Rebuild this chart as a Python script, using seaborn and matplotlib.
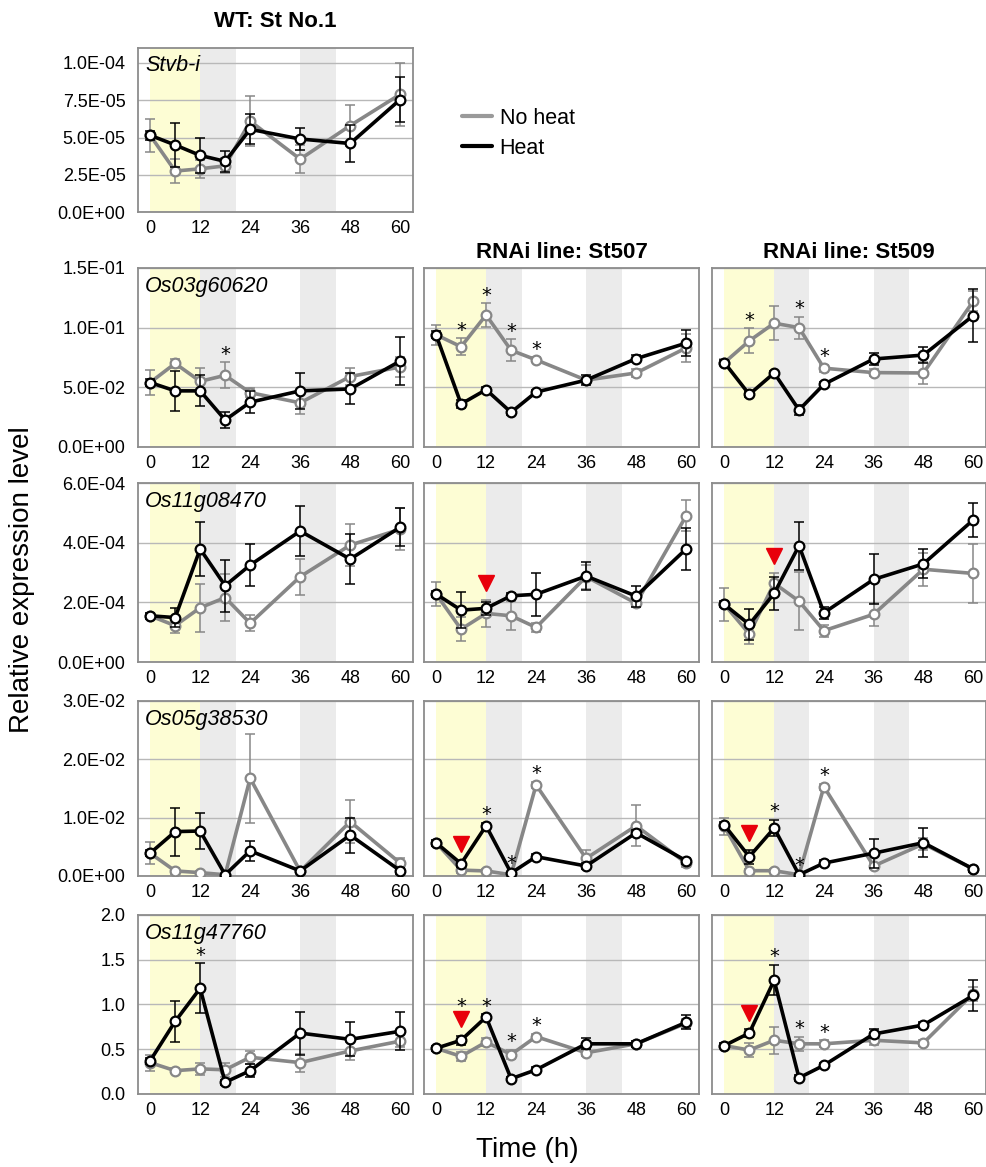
import numpy as np
import pandas as pd
import matplotlib
matplotlib.use('Agg')
import matplotlib.pyplot as plt
import matplotlib.transforms as mtransforms
import seaborn as sns
from matplotlib.lines import Line2D
from matplotlib.ticker import FuncFormatter

# sampling times (h)
times = [0, 6, 12, 18, 24, 36, 48, 60]
lines = ['WT: St No.1', 'RNAi line: St507', 'RNAi line: St509']
genes = ['Stvb-i', 'Os03g60620', 'Os11g08470', 'Os05g38530', 'Os11g47760']

# Stvb-i, WT only
stvb_noheat = [[5.15e-5, 2.75e-5, 2.9e-5, 3.1e-5, 6.1e-5, 3.55e-5, 5.8e-5, 7.9e-5]]
stvb_noheat_err = [[1.1e-5, 0.8e-5, 0.6e-5, 0.5e-5, 1.7e-5, 0.95e-5, 1.4e-5, 2.1e-5]]
stvb_heat = [[5.15e-5, 4.5e-5, 3.8e-5, 3.4e-5, 5.55e-5, 4.9e-5, 4.6e-5, 7.55e-5]]
stvb_heat_err = [[0.3e-5, 1.5e-5, 1.15e-5, 0.7e-5, 1.0e-5, 0.75e-5, 1.25e-5, 1.5e-5]]

# Os03g60620
os03_noheat = [[0.054, 0.070, 0.055, 0.060, 0.0455, 0.037, 0.059, 0.067],
               [0.094, 0.084, 0.1106, 0.081, 0.073, 0.056, 0.062, 0.083],
               [0.0707, 0.0889, 0.1037, 0.100, 0.066, 0.0623, 0.062, 0.122]]
os03_noheat_err = [[0.0105, 0.004, 0.011, 0.011, 0.004, 0.009, 0.007, 0.008],
                   [0.0085, 0.007, 0.0098, 0.0093, 0.002, 0.003, 0.003, 0.012],
                   [0.003, 0.0105, 0.0144, 0.0092, 0.003, 0.003, 0.009, 0.0084]]
os03_heat = [[0.054, 0.047, 0.047, 0.0226, 0.0375, 0.047, 0.0486, 0.072],
             [0.094, 0.036, 0.048, 0.029, 0.046, 0.056, 0.074, 0.087],
             [0.0707, 0.044, 0.062, 0.031, 0.0525, 0.0737, 0.077, 0.110]]
os03_heat_err = [[0.003, 0.017, 0.013, 0.0065, 0.009, 0.015, 0.013, 0.02],
                 [0.003, 0.003, 0.002, 0.002, 0.002, 0.004, 0.003, 0.011],
                 [0.002, 0.002, 0.002, 0.004, 0.002, 0.005, 0.0064, 0.022]]

# Os11g08470 (x 1e-4)
os11g08_noheat = [[1.55, 1.22, 1.82, 2.16, 1.30, 2.86, 3.92, 4.45],
                  [2.28, 1.10, 1.63, 1.55, 1.16, 2.86, 1.97, 4.9],
                  [1.93, 0.94, 2.64, 2.04, 1.05, 1.6, 3.11, 2.97]]
os11g08_noheat_err = [[0.1, 0.23, 0.8, 0.8, 0.26, 0.6, 0.7, 0.7],
                      [0.4, 0.4, 0.45, 0.48, 0.15, 0.4, 0.1, 0.52],
                      [0.54, 0.35, 0.34, 0.97, 0.2, 0.38, 0.55, 1.0]]
os11g08_heat = [[1.55, 1.49, 3.79, 2.56, 3.25, 4.39, 3.45, 4.52],
                [2.28, 1.74, 1.8, 2.22, 2.27, 2.88, 2.21, 3.79],
                [1.93, 1.26, 2.3, 3.9, 1.65, 2.77, 3.29, 4.76]]
os11g08_heat_err = [[0.1, 0.31, 0.9, 0.87, 0.7, 0.85, 0.85, 0.64],
                    [0.1, 0.6, 0.22, 0.1, 0.72, 0.48, 0.35, 0.7],
                    [0.1, 0.51, 0.56, 0.8, 0.2, 0.84, 0.49, 0.57]]
os11g08_scale = 1e-4

# Os05g38530 (x 1e-2)
os05_noheat = [[0.39, 0.086, 0.057, 0.02, 1.675, 0.08, 0.93, 0.22],
               [0.57, 0.10, 0.086, 0.02, 1.56, 0.30, 0.86, 0.22],
               [0.85, 0.09, 0.09, 0.02, 1.53, 0.17, 0.55, 0.12]]
os05_noheat_err = [[0.19, 0.05, 0.03, 0.02, 0.76, 0.03, 0.37, 0.08],
                   [0.05, 0.05, 0.03, 0.02, 0.05, 0.15, 0.35, 0.06],
                   [0.15, 0.03, 0.03, 0.02, 0.05, 0.05, 0.1, 0.04]]
os05_heat = [[0.39, 0.76, 0.77, 0.02, 0.43, 0.086, 0.70, 0.09],
             [0.57, 0.21, 0.86, 0.05, 0.33, 0.17, 0.74, 0.26],
             [0.87, 0.33, 0.82, 0.02, 0.22, 0.39, 0.57, 0.12]]
os05_heat_err = [[0.05, 0.41, 0.31, 0.02, 0.17, 0.03, 0.3, 0.05],
                 [0.05, 0.05, 0.05, 0.02, 0.05, 0.05, 0.05, 0.05],
                 [0.05, 0.12, 0.14, 0.02, 0.05, 0.25, 0.25, 0.05]]
os05_scale = 1e-2

# Os11g47760
os11g47_noheat = [[0.35, 0.26, 0.28, 0.27, 0.41, 0.35, 0.48, 0.59],
                  [0.51, 0.42, 0.58, 0.44, 0.64, 0.46, 0.56, 0.79],
                  [0.54, 0.49, 0.60, 0.56, 0.56, 0.60, 0.57, 1.12]]
os11g47_noheat_err = [[0.09, 0.03, 0.07, 0.08, 0.07, 0.1, 0.1, 0.07],
                      [0.03, 0.05, 0.04, 0.05, 0.03, 0.04, 0.03, 0.05],
                      [0.03, 0.08, 0.15, 0.08, 0.04, 0.05, 0.03, 0.08]]
os11g47_heat = [[0.37, 0.81, 1.18, 0.13, 0.26, 0.68, 0.61, 0.70],
                [0.51, 0.60, 0.86, 0.17, 0.27, 0.56, 0.56, 0.80],
                [0.54, 0.68, 1.27, 0.18, 0.32, 0.67, 0.77, 1.10]]
os11g47_heat_err = [[0.03, 0.23, 0.28, 0.03, 0.07, 0.24, 0.19, 0.21],
                    [0.03, 0.05, 0.03, 0.02, 0.03, 0.06, 0.03, 0.08],
                    [0.03, 0.04, 0.17, 0.03, 0.03, 0.05, 0.03, 0.17]]

# significance marks (*) and red triangles, by time point
stars = {'Stvb-i': [[]],
         'Os03g60620': [[18], [6, 12, 18, 24], [6, 18, 24]],
         'Os11g08470': [[], [], []],
         'Os05g38530': [[], [12, 18, 24], [12, 18, 24]],
         'Os11g47760': [[12], [6, 12, 18, 24], [12, 18, 24]]}
triangles = {'Stvb-i': [[]],
             'Os03g60620': [[], [], []],
             'Os11g08470': [[], [12], [12]],
             'Os05g38530': [[], [6], [6]],
             'Os11g47760': [[], [6], [6]]}

# y axis top and tick step per gene
y_top = {'Stvb-i': 1.1e-4, 'Os03g60620': 0.15, 'Os11g08470': 6e-4,
         'Os05g38530': 3e-2, 'Os11g47760': 2.0}
y_step = {'Stvb-i': 2.5e-5, 'Os03g60620': 0.05, 'Os11g08470': 2e-4,
          'Os05g38530': 1e-2, 'Os11g47760': 0.5}

raw = {
    'Stvb-i': (stvb_noheat, stvb_noheat_err, stvb_heat, stvb_heat_err, 1.0),
    'Os03g60620': (os03_noheat, os03_noheat_err, os03_heat, os03_heat_err, 1.0),
    'Os11g08470': (os11g08_noheat, os11g08_noheat_err, os11g08_heat, os11g08_heat_err, os11g08_scale),
    'Os05g38530': (os05_noheat, os05_noheat_err, os05_heat, os05_heat_err, os05_scale),
    'Os11g47760': (os11g47_noheat, os11g47_noheat_err, os11g47_heat, os11g47_heat_err, 1.0),
}

rows = []
for g in genes:
    nh, nh_e, h, h_e, sc = raw[g]
    for li in range(len(nh)):
        for t, v, e in zip(times, nh[li], nh_e[li]):
            rows.append((g, lines[li], 'No heat', t, v * sc, e * sc))
        for t, v, e in zip(times, h[li], h_e[li]):
            rows.append((g, lines[li], 'Heat', t, v * sc, e * sc))
df = pd.DataFrame(rows, columns=['gene', 'line', 'condition', 'time', 'value', 'err'])

GRAY = '#878787'
colors = {'No heat': GRAY, 'Heat': 'black'}

sns.set_style('white')
plt.rcParams['font.family'] = ['Liberation Sans', 'DejaVu Sans']
plt.rcParams['text.color'] = 'black'
plt.rcParams['xtick.labelcolor'] = 'black'
plt.rcParams['ytick.labelcolor'] = 'black'

fig = plt.figure(figsize=(9.86, 11.67), dpi=100)

col_left = [0.140, 0.430, 0.7225]
col_w = [0.279, 0.279, 0.2775]
row_bottom = [0.8183, 0.6170, 0.4327, 0.2494, 0.0626]
row_h = [0.1405, 0.1534, 0.1534, 0.150, 0.1534]

for ri, g in enumerate(genes):
    n_lines = len(raw[g][0])
    for li in range(n_lines):
        ax = fig.add_axes([col_left[li], row_bottom[ri], col_w[li], row_h[ri]])
        ax.axvspan(0, 12, color='#fdfdd4', lw=0, zorder=0.5)
        ax.axvspan(12, 20.5, color='#ebebeb', lw=0, zorder=0.5)
        ax.axvspan(36, 44.5, color='#ebebeb', lw=0, zorder=0.5)

        sub = df[(df.gene == g) & (df.line == lines[li])]
        z = 3
        for cond in ['No heat', 'Heat']:
            d = sub[sub.condition == cond]
            c = colors[cond]
            ax.errorbar(d.time, d.value, yerr=d.err, fmt='none', ecolor=c,
                        elinewidth=1.1, capsize=3.5, capthick=1.1, zorder=z)
            sns.lineplot(data=d, x='time', y='value', ax=ax, color=c,
                         linewidth=2.6, marker='o', markersize=7,
                         markerfacecolor='white', markeredgecolor=c,
                         markeredgewidth=1.6, errorbar=None, zorder=z + 1)
            z += 2

        # marks above the highest error bar at that time
        top = sub.assign(up=sub.value + sub.err).groupby('time').up.max()
        tri_t = triangles[g][li]
        shift = ax.transData + mtransforms.ScaledTranslation(0, 12 / 72, fig.dpi_scale_trans)
        for t in tri_t:
            ax.plot([t], [top[t]], marker='v', color='#e8000b', markersize=11,
                    lw=0, zorder=10, transform=shift)
        for t in stars[g][li]:
            extra = 15 if t in tri_t else 0
            ax.annotate('*', xy=(t, top[t]), xytext=(0, extra - 1),
                        textcoords='offset points', ha='center', va='bottom',
                        fontsize=14, family='DejaVu Sans', zorder=11)

        ax.set_xlim(-2.9, 63.1)
        ax.set_ylim(0, y_top[g])
        yt = np.arange(0, y_top[g] + y_step[g] * 0.01, y_step[g])
        ax.set_yticks(yt)
        ax.set_xticks([0, 12, 24, 36, 48, 60])
        ax.set_xticks(np.arange(0, 61, 6), minor=True)
        ax.yaxis.grid(True, color='#b8b8b8', lw=1.0)
        ax.set_axisbelow('line')
        ax.tick_params(axis='x', which='both', direction='in', length=4,
                       color='#8c8c8c', labelsize=13, pad=6)
        ax.tick_params(axis='y', length=0, labelsize=13, pad=9)
        if li == 0:
            if g == 'Os11g47760':
                ax.yaxis.set_major_formatter(FuncFormatter(lambda v, p: f'{v:.1f}'))
            else:
                ax.yaxis.set_major_formatter(FuncFormatter(lambda v, p: f'{v:.1E}'))
            ax.text(0.025, 0.955, g, transform=ax.transAxes, ha='left', va='top',
                    fontsize=15.5, style='italic', zorder=12)
        else:
            ax.set_yticklabels([])
        for s in ax.spines.values():
            s.set_color('#8c8c8c')
            s.set_linewidth(1.3)
        ax.set_xlabel('')
        ax.set_ylabel('')

        if ri == 0 and li == 0:
            ax.set_title(lines[0], fontweight='bold', fontsize=16, pad=15)
        if ri == 1 and li > 0:
            ax.set_title(lines[li], fontweight='bold', fontsize=16, pad=7)

handles = [Line2D([0], [0], color='#9a9a9a', lw=3),
           Line2D([0], [0], color='black', lw=3)]
fig.legend(handles, ['No heat', 'Heat'], loc='upper left',
           bbox_to_anchor=(0.4686, 0.9075), frameon=False, fontsize=15.5,
           handlelength=1.4, handletextpad=0.35, labelspacing=0.4,
           borderpad=0, borderaxespad=0)

fig.text(0.022, 0.503, 'Relative expression level', rotation=90,
         ha='center', va='center', fontsize=20)
fig.text(0.535, 0.0146, 'Time (h)', ha='center', va='center', fontsize=20)

fig.savefig('out.png', dpi=100)
